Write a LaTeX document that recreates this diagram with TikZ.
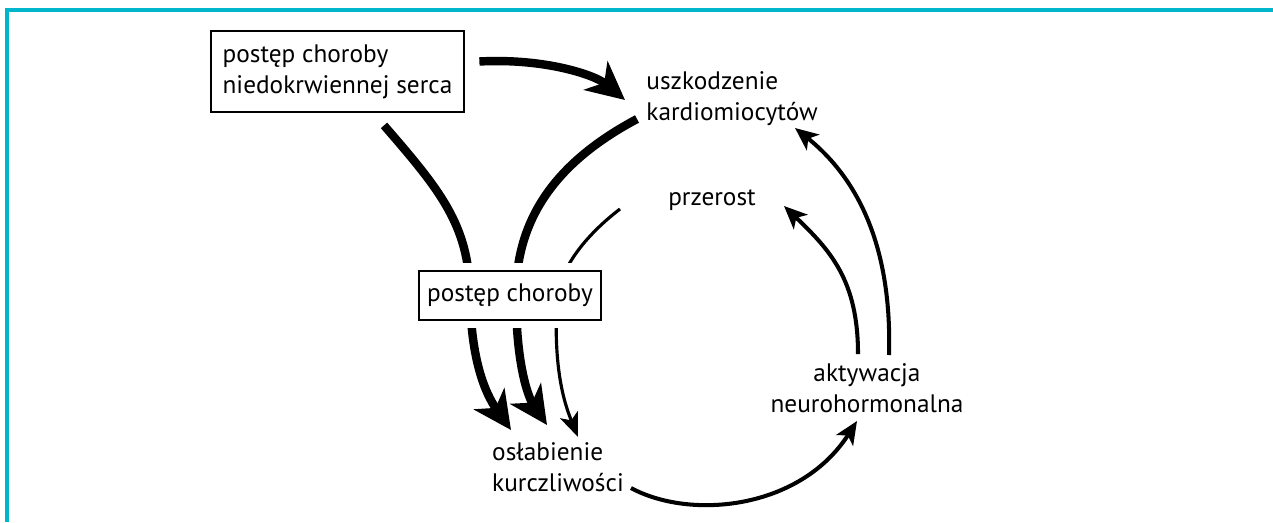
\documentclass[tikz,border=0pt]{standalone}
\usepackage{fontspec}
\setmainfont{PT Sans}
\usetikzlibrary{arrows.meta}
\definecolor{framecol}{RGB}{0, 182, 204}

\begin{document}
\begin{tikzpicture}[x=0.02cm, y=-0.02cm,
  txt/.style={align=left, inner sep=0pt, font=\fontsize{14.4}{17.6}\selectfont},
  box/.style={txt, draw, line width=1.6pt, fill=white},
  heavy/.style={line width=4.8pt, -{Stealth[length=0.76cm, width=0.74cm, inset=0.22cm]}},
  thin/.style={line width=1.8pt, -{Stealth[length=0.48cm, width=0.38cm, inset=0.12cm]}},
  medium/.style={line width=2.3pt, -{Stealth[length=0.46cm, width=0.4cm, inset=0.12cm]}},
  frame/.style={draw=framecol, line width=2.4pt}
]
\useasboundingbox (0,0) rectangle (1273,522);
\draw[frame] (1273,10) -- (7,10) -- (7,522);

% nodes
\node[box, minimum width=5.06cm, minimum height=1.62cm] (ischemia) at (337.5,71.5) {postęp choroby\\niedokrwiennej serca};
\node[txt] (damage) at (732,99) {uszkodzenie\\kardiomiocytów};
\node[txt] (hypertrophy) at (712,200) {przerost};
\node[txt] (weakening) at (558,467) {osłabienie\\kurczliwości};
\node[txt, align=center] (activation) at (867,388) {aktywacja\\neurohormonalna};

% heavy arrows
\draw[heavy] ([shift={(14,-10)}]ischemia.east) .. controls (545,58) and (595,75) .. ([shift={(-107,1)}]damage.center);
\draw[heavy] ([shift={(46.5,12)}]ischemia.south) .. controls (440,190) and (469,225) .. (470,295)
  .. controls (471,370) and (490,400) .. ([shift={(-47,-37)}]weakening.center);
\draw[heavy] ([shift={(-95,20)}]damage.center) .. controls (560,160) and (516,215) .. (516,295)
  .. controls (516,370) and (530,400) .. ([shift={(-11,-42)}]weakening.center);
\draw[thin] ([shift={(-92,9)}]hypertrophy.center) .. controls (590,232) and (560,265) .. (557,300)
  .. controls (553,370) and (565,405) .. ([shift={(20,-30)}]weakening.center);

% cycle
\draw[medium] ([shift={(73,21)}]weakening.center) .. controls (690,520) and (800,510) .. ([shift={(-10,33)}]activation.center);
\draw[medium] ([shift={(-9,-34)}]activation.center) .. controls (858,280) and (830,250) .. ([shift={(72,6)}]hypertrophy.center);
\draw[medium] ([shift={(22,-33)}]activation.center) .. controls (892,250) and (860,180) .. ([shift={(63,29)}]damage.center);

% box drawn over the three arrows
\node[box, minimum width=3.64cm, minimum height=0.98cm, preaction={draw=white, line width=9pt}] (progress) at (510,295.5) {postęp choroby};
\end{tikzpicture}
\end{document}
